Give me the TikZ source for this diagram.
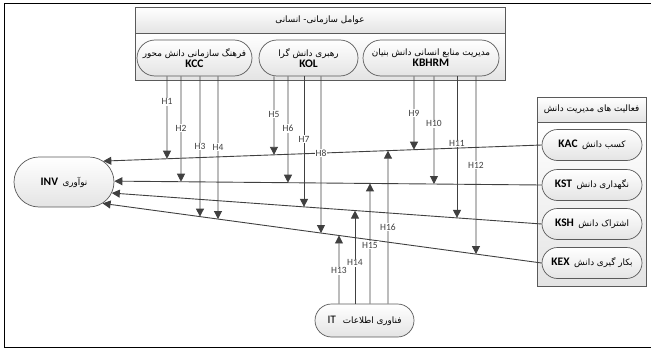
\documentclass[tikz,border=0pt]{standalone}
\usepackage{fontspec}
\setmainfont{Carlito}
\newfontfamily\fa[Script=Arabic]{DejaVu Sans}
\TeXXeTstate=1
\usetikzlibrary{shapes.misc,arrows.meta,calc}
\definecolor{bordc}{HTML}{5A5A5A}
\definecolor{linec}{HTML}{404040}
\definecolor{fillc}{HTML}{E4E4E4}
\newcommand\fas{\fa\fontsize{8.8}{10}\selectfont}
\newcommand\latb{\normalfont\fontsize{11.5}{12}\selectfont\bfseries}
\newcommand\hyp[7]{%
  \coordinate (#1a) at ($(#2)+(#3,0)$);
  \coordinate (#1b) at ($(#1a)+(0,10)$);
  \draw[arr] (#1a) -- node[lbl,pos=#7]{#6} (intersection of #1a--#1b and #4--#5);
}
\begin{document}
\begin{tikzpicture}[x=1pt,y=-1pt,
  box/.style={draw=bordc, line width=0.7pt, top color=white, bottom color=fillc},
  stad/.style={box, rounded rectangle, inner sep=1pt, align=center},
  hdr/.style={box, rectangle, inner sep=0pt},
  arr/.style={draw=linec, line width=0.9pt, -{Triangle[length=8pt,width=8pt]}},
  lbl/.style={fill=white, inner sep=0.8pt, text=linec, font=\fontsize{9.5}{10}\selectfont}]
\useasboundingbox (0,0) rectangle (651,348);
\draw[line width=1pt] (4.5,3) rectangle (660,347);
% organisational factors
\node[hdr, minimum width=370pt, minimum height=26pt] (orgh) at (320,20)
  {\fas\beginR عوامل سازمانی- انسانی\endR};
\node[hdr, minimum width=370pt, minimum height=47pt] (orgb) at (320,56.5) {};
\node[stad, minimum width=117pt, minimum height=36pt] (kcc) at (194.5,58)
  {\fas\beginR فرهنگ سازمانی دانش محور\endR\\[-1pt]{\latb KCC}};
\node[stad, minimum width=101pt, minimum height=36pt] (kol) at (308.5,58)
  {\fas\beginR رهبری دانش گرا\endR\\[-1pt]{\latb KOL}};
\node[stad, minimum width=138pt, minimum height=36pt] (kbh) at (431,58)
  {\fas\beginR مدیریت منابع انسانی دانش بنیان\endR\\[-1pt]{\latb KBHRM}};
% innovation
\node[stad, minimum width=102pt, minimum height=50pt] (inv) at (64,182)
  {{\latb INV}\ \ {\fas نوآوری}};
% KM activities
\node[hdr, minimum width=109pt, minimum height=25pt] (kmh) at (591.5,109.5)
  {\fas\beginR فعالیت های مدیریت دانش\endR};
\node[hdr, minimum width=109pt, minimum height=164pt] (kmb) at (591.5,204) {};
\node[stad, minimum width=102pt, minimum height=31pt] (kac) at (592,145)
  {{\latb KAC}\ \ {\fas\beginR کسب دانش\endR}};
\node[stad, minimum width=102pt, minimum height=31pt] (kst) at (592,185)
  {{\latb KST}\ \ {\fas\beginR نگهداری دانش\endR}};
\node[stad, minimum width=102pt, minimum height=31pt] (ksh) at (592,224)
  {{\latb KSH}\ \ {\fas\beginR اشتراک دانش\endR}};
\node[stad, minimum width=102pt, minimum height=31pt] (kex) at (592,263)
  {{\latb KEX}\ \ {\fas\beginR بکار گیری دانش\endR}};
% IT
\node[stad, minimum width=101pt, minimum height=33pt] (it) at (364.5,320.5)
  {{\normalfont\fontsize{11.5}{12}\selectfont IT}\ \ \ {\fas\beginR فناوری اطلاعات\endR}};
% KM -> INV
\draw[arr] (kac.west) -- (inv.28);
\draw[arr] (kst.west) -- (inv.1);
\draw[arr] (ksh.west) -- (inv.-13);
\draw[arr] (kex.west) -- (inv.-29);
% hypotheses
\hyp{h1}{kcc.south}{-27.5}{kac.west}{inv.28}{H1}{0.31}
\hyp{h2}{kcc.south}{-13.5}{kst.west}{inv.1}{H2}{0.49}
\hyp{h3}{kcc.south}{5.5}{kex.west}{inv.-29}{H3}{0.5}
\hyp{h4}{kcc.south}{23.5}{kex.west}{inv.-29}{H4}{0.495}
\hyp{h5}{kol.south}{-34.5}{kac.west}{inv.28}{H5}{0.48}
\hyp{h6}{kol.south}{-20.5}{kst.west}{inv.1}{H6}{0.49}
\hyp{h7}{kol.south}{-4.5}{ksh.west}{inv.-13}{H7}{0.48}
\hyp{h8}{kol.south}{12.5}{kex.west}{inv.-29}{H8}{0.49}
\hyp{h9}{kbh.south}{-17}{kac.west}{inv.28}{H9}{0.5}
\hyp{h10}{kbh.south}{3}{kst.west}{inv.1}{H10}{0.44}
\hyp{h11}{kbh.south}{26}{ksh.west}{inv.-13}{H11}{0.475}
\hyp{h12}{kbh.south}{45}{kex.west}{inv.-29}{H12}{0.5}
\hyp{h13}{it.north}{-25.5}{kex.west}{inv.-29}{H13}{0.485}
\hyp{h14}{it.north}{-9.5}{ksh.west}{inv.-13}{H14}{0.44}
\hyp{h15}{it.north}{5.5}{kst.west}{inv.1}{H15}{0.487}
\hyp{h16}{it.north}{23.5}{kac.west}{inv.28}{H16}{0.5}
\end{tikzpicture}
\end{document}
